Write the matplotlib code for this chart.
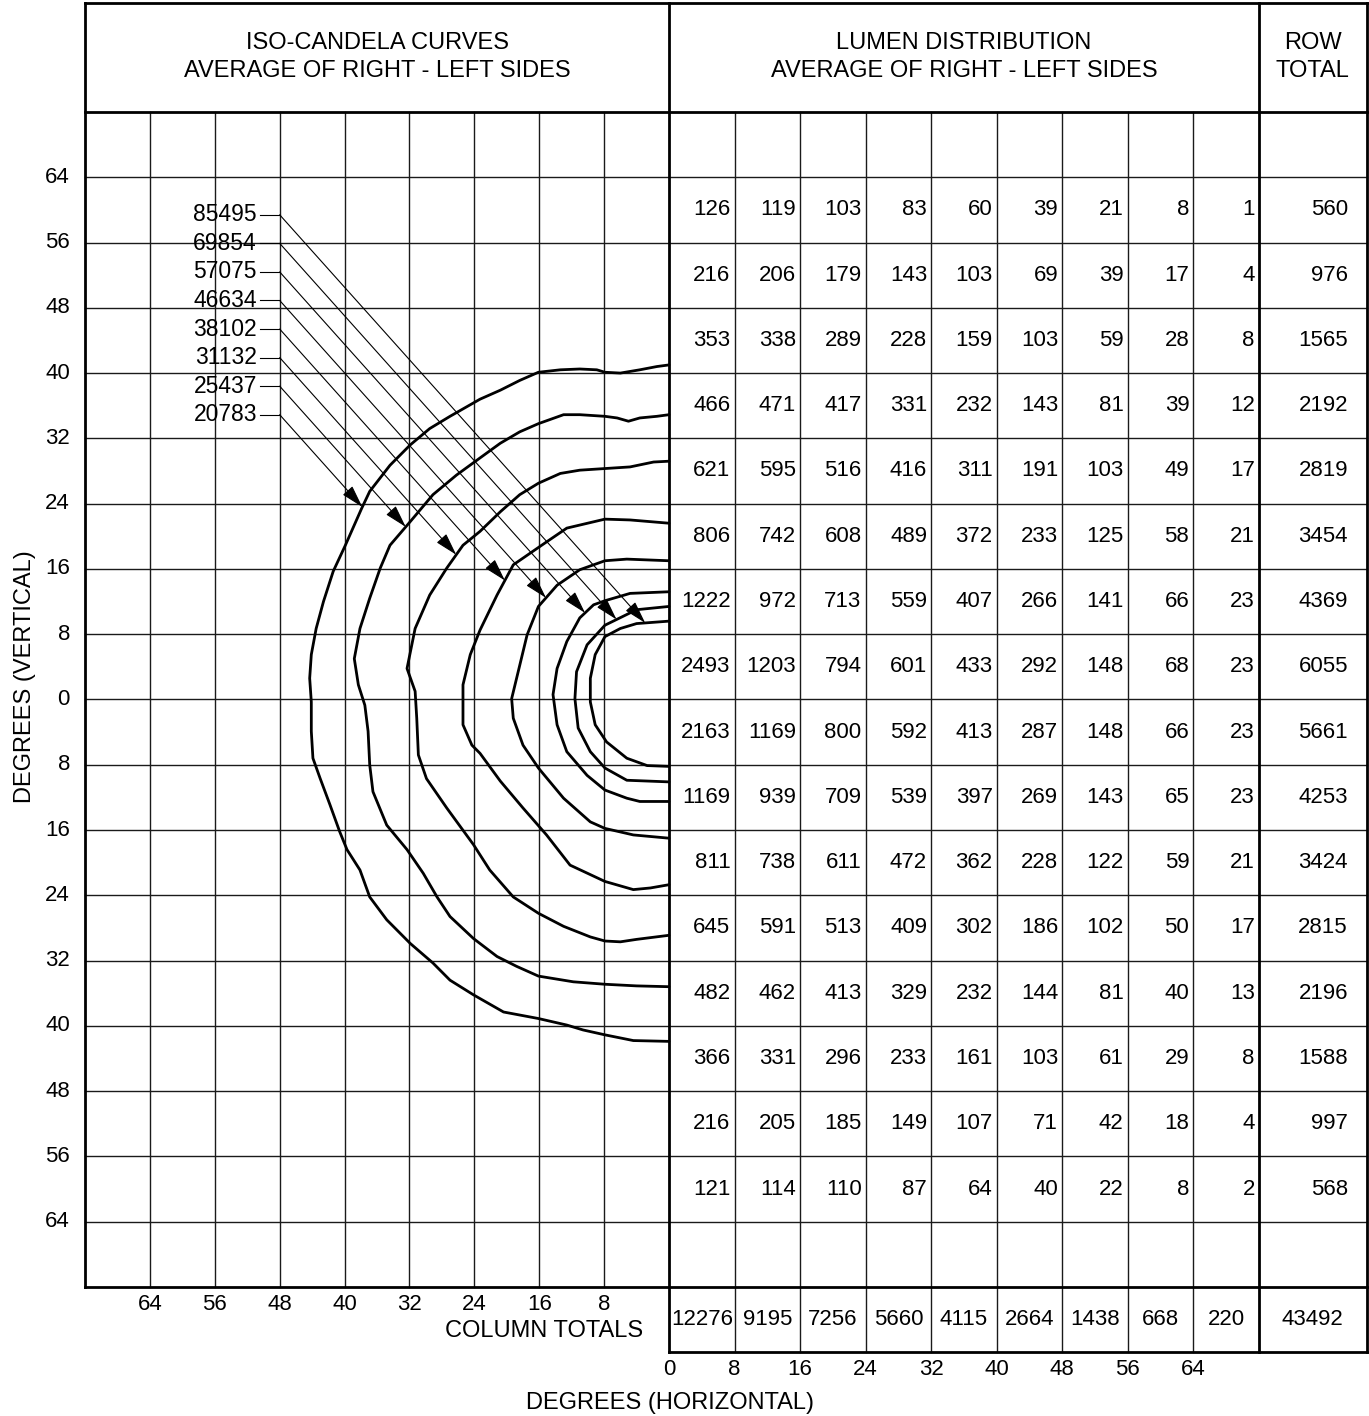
import numpy as np
import matplotlib.pyplot as plt

plt.rcParams['font.family'] = ['Liberation Sans', 'DejaVu Sans']

# iso-candela levels, label order top to bottom (innermost curve first)
candela_levels = [85495, 69854, 57075, 46634, 38102, 31132, 25437, 20783]

# curves: h = horizontal degrees from the centre line, v = vertical degrees
c20783_h = [0, 1.5, 3.6, 6.0, 7.9, 8.9, 11.0, 13.4, 16.1, 18.4, 20.8, 23.3, 27.0, 29.5, 31.9, 34.4,
            36.9, 37.9, 39.9, 41.4, 42.6, 43.5, 44.1, 44.3, 44.1, 44.1, 43.9, 43.0, 41.8, 40.6, 39.7,
            38.1, 36.9, 34.8, 31.9, 29.1, 27.0, 24.1, 20.4, 16.1, 12.6, 10.6, 7.9, 4.4, 0]
c20783_v = [41.0, 40.8, 40.4, 40.0, 40.1, 40.4, 40.5, 40.4, 40.1, 39.1, 37.9, 36.8, 34.7, 33.2, 31.2, 28.7,
            25.5, 23.4, 18.9, 15.7, 12.0, 8.7, 5.5, 2.6, -0.3, -3.9, -7.2, -9.7, -12.9, -16.2, -18.4,
            -20.9, -24.2, -27.0, -29.9, -32.3, -34.4, -36.2, -38.3, -39.1, -39.9, -40.5, -41.1, -41.8, -41.9]
c25437_h = [0, 1.5, 3.6, 5.0, 6.4, 7.9, 11.0, 13.0, 16.1, 18.4, 20.8, 23.3, 26.2, 29.1, 31.9, 34.4,
            35.6, 36.9, 38.1, 38.8, 38.3, 37.5, 37.1, 36.9, 36.5, 34.8, 32.3, 30.3, 28.6, 27.0, 24.1,
            21.2, 18.8, 16.1, 11.8, 7.9, 4.0, 0]
c25437_v = [34.9, 34.7, 34.5, 34.1, 34.5, 34.7, 34.9, 34.9, 33.8, 32.8, 31.4, 29.6, 27.5, 25.1, 21.8, 18.9,
            16.1, 12.4, 8.7, 5.0, 1.8, -0.7, -3.9, -8.0, -11.3, -15.4, -18.4, -21.3, -24.2, -26.6, -29.3,
            -31.5, -32.7, -33.9, -34.6, -34.9, -35.1, -35.2]
c31132_h = [0, 1.9, 4.8, 7.9, 11.0, 13.4, 16.1, 18.4, 20.8, 23.3, 25.4, 27.4, 29.5, 31.3, 32.3, 31.3,
            31.1, 30.9, 29.9, 27.4, 24.1, 22.1, 19.2, 16.1, 13.0, 9.7, 7.9, 6.0, 4.0, 0]
c31132_v = [29.2, 29.1, 28.5, 28.3, 28.1, 27.7, 26.5, 25.1, 23.0, 20.6, 18.9, 16.1, 12.8, 8.7, 3.8, 1.0,
            -2.3, -6.8, -9.7, -13.3, -17.8, -20.9, -24.2, -26.2, -27.8, -29.1, -29.6, -29.7, -29.4, -28.9]
c38102_h = [0, 4.8, 7.9, 12.6, 15.7, 19.2, 21.2, 23.3, 24.5, 25.4, 25.4, 24.3, 23.3, 20.8, 18.0, 15.1,
            12.2, 7.9, 4.4, 2.3, 0]
c38102_v = [21.6, 22.0, 22.1, 21.0, 18.9, 16.5, 12.8, 8.5, 5.5, 1.8, -3.1, -5.6, -6.6, -10.0, -13.3, -16.6,
            -20.3, -22.3, -23.3, -23.1, -22.7]
c46634_h = [0, 5.2, 7.9, 11.0, 13.8, 16.1, 17.5, 18.4, 19.4, 19.2, 18.0, 16.1, 13.0, 9.7, 7.9, 4.4, 0]
c46634_v = [17.0, 17.2, 17.0, 15.9, 14.0, 11.4, 7.9, 4.2, 0.1, -2.3, -5.6, -8.4, -12.1, -15.0, -15.8, -16.6, -17.0]
c57075_h = [0, 4.8, 7.9, 9.3, 11.0, 12.6, 13.8, 14.3, 13.8, 12.6, 10.1, 7.9, 5.2, 3.6, 0]
c57075_v = [13.2, 13.0, 12.1, 11.6, 10.0, 7.1, 3.8, 0.6, -3.1, -6.4, -9.3, -11.1, -12.1, -12.5, -12.5]
c69854_h = [0, 4.0, 7.9, 10.1, 11.4, 11.6, 11.2, 9.7, 7.9, 5.2, 0]
c69854_v = [11.4, 11.0, 9.1, 6.7, 3.4, 0.1, -3.5, -6.4, -8.4, -9.9, -10.1]
c85495_h = [0, 4.0, 6.0, 7.9, 9.1, 9.7, 9.7, 9.1, 7.7, 5.2, 2.7, 0]
c85495_v = [9.6, 9.3, 8.7, 7.7, 5.5, 2.6, -0.3, -3.1, -5.2, -7.2, -8.1, -8.2]

curves = [(c85495_h, c85495_v), (c69854_h, c69854_v), (c57075_h, c57075_v), (c46634_h, c46634_v),
          (c38102_h, c38102_v), (c31132_h, c31132_v), (c25437_h, c25437_v), (c20783_h, c20783_v)]

# lumen distribution, rows from 56-64 deg up to 56-64 deg down, columns 0-8 ... 64-72 deg
lumen_values = [
    [126, 119, 103, 83, 60, 39, 21, 8, 1],
    [216, 206, 179, 143, 103, 69, 39, 17, 4],
    [353, 338, 289, 228, 159, 103, 59, 28, 8],
    [466, 471, 417, 331, 232, 143, 81, 39, 12],
    [621, 595, 516, 416, 311, 191, 103, 49, 17],
    [806, 742, 608, 489, 372, 233, 125, 58, 21],
    [1222, 972, 713, 559, 407, 266, 141, 66, 23],
    [2493, 1203, 794, 601, 433, 292, 148, 68, 23],
    [2163, 1169, 800, 592, 413, 287, 148, 66, 23],
    [1169, 939, 709, 539, 397, 269, 143, 65, 23],
    [811, 738, 611, 472, 362, 228, 122, 59, 21],
    [645, 591, 513, 409, 302, 186, 102, 50, 17],
    [482, 462, 413, 329, 232, 144, 81, 40, 13],
    [366, 331, 296, 233, 161, 103, 61, 29, 8],
    [216, 205, 185, 149, 107, 71, 42, 18, 4],
    [121, 114, 110, 87, 64, 40, 22, 8, 2],
]
row_totals = [560, 976, 1565, 2192, 2819, 3454, 4369, 6055, 5661, 4253, 3424, 2815, 2196, 1588, 997, 568]
column_totals = [12276, 9195, 7256, 5660, 4115, 2664, 1438, 668, 220]
grand_total = 43492

vert_ticks = [64, 56, 48, 40, 32, 24, 16, 8, 0, -8, -16, -24, -32, -40, -48, -56, -64]
horiz_ticks = [64, 56, 48, 40, 32, 24, 16, 8]
table_ticks = [0, 8, 16, 24, 32, 40, 48, 56, 64]

# layout in degree units (one axes over the whole figure)
TOP = 85.4
HEAD = 72
BOT = -72
TOT_BOT = -80
CW = 8.08
RT = 9 * CW
RIGHT = 86.0
K = 'black'

fig = plt.figure(figsize=(13.69, 14.16), dpi=100)
ax = fig.add_axes([0, 0, 1, 1])
ax.set_xlim(-82.48, 86.30)
ax.set_ylim(-87.81, 85.72)
ax.axis('off')

thin = dict(color='#1a1a1a', lw=1.0)
thick = dict(color=K, lw=2.0, solid_capstyle='projecting')

# grid
for h in horiz_ticks:
    ax.plot([-h, -h], [BOT, HEAD], **thin)
for v in vert_ticks:
    ax.plot([-72, RIGHT], [v, v], **thin)
for i in range(1, 9):
    ax.plot([i * CW, i * CW], [TOT_BOT, HEAD], **thin)

# frame
ax.plot([-72, RIGHT], [TOP, TOP], **thick)
ax.plot([-72, RIGHT], [HEAD, HEAD], **thick)
ax.plot([-72, RIGHT], [BOT, BOT], **thick)
ax.plot([0, RIGHT], [TOT_BOT, TOT_BOT], **thick)
ax.plot([-72, -72], [BOT, TOP], **thick)
ax.plot([0, 0], [TOT_BOT, TOP], **thick)
ax.plot([RT, RT], [TOT_BOT, TOP], **thick)
ax.plot([RIGHT, RIGHT], [TOT_BOT, TOP], **thick)

# headers
hdr = dict(ha='center', va='center', fontsize=17, linespacing=1.35)
ax.text(-36, 78.7, 'ISO-CANDELA CURVES\nAVERAGE OF RIGHT - LEFT SIDES', **hdr)
ax.text(4.5 * CW, 78.7, 'LUMEN DISTRIBUTION\nAVERAGE OF RIGHT - LEFT SIDES', **hdr)
ax.text((RT + RIGHT) / 2, 78.7, 'ROW\nTOTAL', **hdr)

# iso-candela curves
for h, v in curves:
    ax.plot(-np.array(h), v, color=K, lw=2.0, solid_joinstyle='round', solid_capstyle='round')


def first_hit(x0, y0, xs, ys, slope):
    xs = np.asarray(xs, float)
    ys = np.asarray(ys, float)
    f = ys - (y0 + slope * (xs - x0))
    best = None
    for k in range(len(xs) - 1):
        if f[k] == 0 or f[k] * f[k + 1] < 0:
            t = f[k] / (f[k] - f[k + 1])
            x = xs[k] + t * (xs[k + 1] - xs[k])
            if x > x0 and (best is None or x < best):
                best = x
    return best, y0 + slope * (best - x0)


# legend labels with leader arrows
for i, (lvl, (h, v)) in enumerate(zip(candela_levels, curves)):
    y = 59.4 - 3.5 * i
    ax.text(-50.8, y, str(lvl), ha='right', va='center', fontsize=16.5)
    ax.plot([-50.4, -48], [y, y], color=K, lw=0.8)
    xe, ye = first_hit(-48, y, -np.array(h), v, -1.11)
    ax.annotate('', xy=(xe, ye), xytext=(-48, y),
                arrowprops=dict(arrowstyle='-|>,head_length=0.7,head_width=0.2', color=K, lw=0.8,
                                shrinkA=0, shrinkB=0, mutation_scale=20))

# lumen table
for r, row in enumerate(lumen_values):
    y = 60 - 8 * r
    for c, val in enumerate(row):
        ax.text((c + 1) * CW - 0.5, y, str(val), ha='right', va='center', fontsize=16)
    ax.text(RIGHT - 2.3, y, str(row_totals[r]), ha='right', va='center', fontsize=16)
for c, val in enumerate(column_totals):
    ax.text((c + 0.5) * CW, -76, str(val), ha='center', va='center', fontsize=16)
ax.text((RT + RIGHT) / 2, -76, str(grand_total), ha='center', va='center', fontsize=16)

# axis labels
for v in vert_ticks:
    ax.text(-73.85, v, str(abs(v)), ha='right', va='center', fontsize=16)
for h in horiz_ticks:
    ax.text(-h, -74.2, str(h), ha='center', va='center', fontsize=16)
for d in table_ticks:
    ax.text(d / 8 * CW, -82.1, str(d), ha='center', va='center', fontsize=16)
ax.text(-3.2, -77.4, 'COLUMN TOTALS', ha='right', va='center', fontsize=17)
ax.text(0.1, -86.2, 'DEGREES (HORIZONTAL)', ha='center', va='center', fontsize=17)
ax.text(-79.4, 2.8, 'DEGREES (VERTICAL)', ha='center', va='center', rotation=90, fontsize=17)

fig.savefig('out.png', dpi=100)
